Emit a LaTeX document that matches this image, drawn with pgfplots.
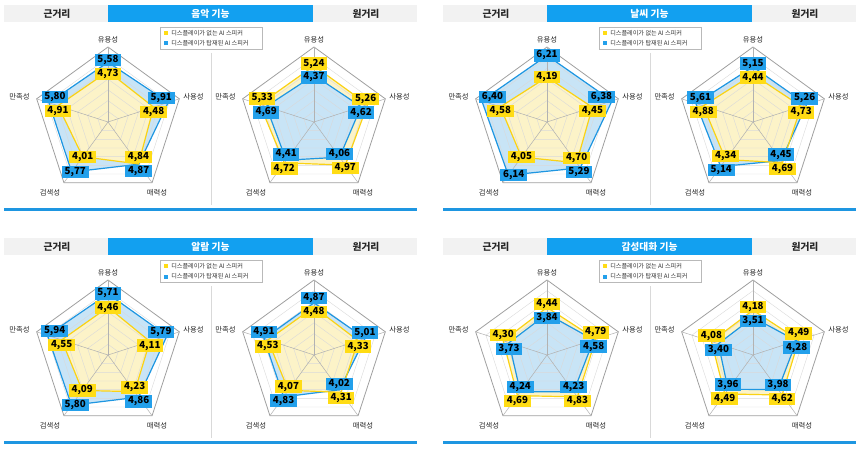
\documentclass[border=0pt]{standalone}
\usepackage{fontspec}
\setmainfont{Noto Sans CJK KR}
\usepackage{pgfplots}
\usepackage{pgfplotstable}
\usepgfplotslibrary{polar}
\pgfplotsset{compat=1.18}

\definecolor{yline}{RGB}{250,210,20}
\definecolor{yfill}{RGB}{252,243,200}
\definecolor{ybox}{RGB}{255,220,20}
\definecolor{bline}{RGB}{30,150,225}
\definecolor{bfill}{RGB}{200,228,246}
\definecolor{bbox}{RGB}{35,160,235}
\definecolor{titleblue}{RGB}{18,160,240}
\definecolor{hdrgray}{RGB}{242,242,242}

% columns: angle, value, label shift up (px)
% 유용성 90, 사용성 18, 매력성 306, 검색성 234, 만족성 162
\pgfplotstableread{
a r up
90 4.73 -2.45
18 4.48 -4.6
306 4.84 6.9
234 4.01 0
162 4.91 -5.5
}\musicNearY
\pgfplotstableread{
a r up
90 5.58 2.45
18 5.91 4.6
306 4.87 -6.9
234 5.77 0
162 5.80 5.5
}\musicNearB
\pgfplotstableread{
a r up
90 5.24 2.3
18 5.26 5.9
306 4.97 -3.1
234 4.72 -5.7
162 5.33 5.9
}\musicFarY
\pgfplotstableread{
a r up
90 4.37 -2.3
18 4.62 -5.9
306 4.06 3.1
234 4.41 5.7
162 4.69 -5.9
}\musicFarB
\pgfplotstableread{
a r up
90 4.19 0
18 4.45 -3.8
306 4.70 4.4
234 4.05 0
162 4.58 -4.0
}\weatherNearY
\pgfplotstableread{
a r up
90 6.21 0
18 6.38 3.8
306 5.29 -4.4
234 6.14 0
162 6.40 4.0
}\weatherNearB
\pgfplotstableread{
a r up
90 4.44 -3.2
18 4.73 -6.1
306 4.69 -6.0
234 4.34 3.5
162 4.88 -5.8
}\weatherFarY
\pgfplotstableread{
a r up
90 5.15 3.2
18 5.26 6.1
306 4.45 6.0
234 5.14 -3.5
162 5.61 5.8
}\weatherFarB
\pgfplotstableread{
a r up
90 4.46 -0.3
18 4.11 -4.2
306 4.23 4.3
234 4.09 0
162 4.55 -4.7
}\alarmNearY
\pgfplotstableread{
a r up
90 5.71 0.3
18 5.79 4.2
306 4.86 -4.3
234 5.80 0
162 5.94 4.7
}\alarmNearB
\pgfplotstableread{
a r up
90 4.48 -4.9
18 4.33 -5.9
306 4.31 -5.7
234 4.07 3.7
162 4.53 -6.4
}\alarmFarY
\pgfplotstableread{
a r up
90 4.87 4.9
18 5.01 5.9
306 4.02 5.7
234 4.83 -3.7
162 4.91 6.4
}\alarmFarB
\pgfplotstableread{
a r up
90 4.44 3.8
18 4.79 6.7
306 4.83 -4.4
234 4.69 -5.1
162 4.30 6.1
}\emoNearY
\pgfplotstableread{
a r up
90 3.84 -3.8
18 4.58 -6.7
306 4.23 4.4
234 4.24 5.1
162 3.73 -6.1
}\emoNearB
\pgfplotstableread{
a r up
90 4.18 3.4
18 4.49 6.7
306 4.62 -4.2
234 4.49 -4.7
162 4.08 5.9
}\emoFarY
\pgfplotstableread{
a r up
90 3.51 -3.4
18 4.28 -6.7
306 3.98 4.2
234 3.96 4.7
162 3.40 -5.9
}\emoFarB

\pgfplotsset{
  radar/.style={width=112.5pt, height=112.5pt, scale only axis,
    xmin=0, xmax=360, ymin=0, ymax=7, hide axis, clip=false, anchor=center},
  vlabel/.style={draw=none, mark=none, point meta=explicit symbolic,
    visualization depends on={rawy\as\rawr},
    visualization depends on={rawx\as\rawa},
    nodes near coords={\pgfmathprintnumber[fixed,fixed zerofill,precision=2,use comma,assume math mode=true]{\rawr}},
    every node near coord/.append style={fill=#1, anchor=center,
      yshift=\pgfplotspointmeta*0.75pt,
      xshift={-max(0,\rawr-5)*8*cos(\rawa)*0.75pt},
      font=\fontsize{7.3}{8}\selectfont\bfseries, text=black,
      inner xsep=2pt, inner ysep=0pt, minimum height=9.2pt}},
}

\tikzset{
  hdr/.style={font=\fontsize{7.3}{8}\selectfont\bfseries, text=black!85},
  axl/.style={font=\fontsize{5.5}{6}\selectfont, text=black!85, inner sep=0pt},
  leg/.style={font=\fontsize{4.6}{5}\selectfont, text=black!80, inner sep=0pt, anchor=west},
}

% #1 cx, #2 cy, #3 back table, #4 back colour, #5 front table, #6 front colour
\newcommand\radar[6]{%
  \begin{polaraxis}[radar, at={(#1*0.75pt,-#2*0.75pt)}]
    \addplot[draw=none, fill=#4fill] table[x=a,y=r]{#3} -- cycle;
    \addplot[draw=none, fill=#6fill] table[x=a,y=r]{#5} -- cycle;
    \pgfplotsinvokeforeach{1,...,6}{%
      \addplot[gray!30, line width=0.3pt] coordinates {(90,##1)(18,##1)(306,##1)(234,##1)(162,##1)} -- cycle;}
    \addplot[gray!75, line width=0.6pt] coordinates {(90,7)(18,7)(306,7)(234,7)(162,7)} -- cycle;
    \addplot[gray!60, line width=0.4pt] coordinates {(90,0)(90,7)};
    \addplot[gray!60, line width=0.4pt] coordinates {(18,0)(18,7)};
    \addplot[gray!60, line width=0.4pt] coordinates {(306,0)(306,7)};
    \addplot[gray!60, line width=0.4pt] coordinates {(234,0)(234,7)};
    \addplot[gray!60, line width=0.4pt] coordinates {(162,0)(162,7)};
    \addplot[#4line, line width=0.9pt] table[x=a,y=r]{#3} -- cycle;
    \addplot[#6line, line width=0.9pt] table[x=a,y=r]{#5} -- cycle;
    \addplot[vlabel=#4box] table[x=a,y=r,meta=up]{#3};
    \addplot[vlabel=#6box] table[x=a,y=r,meta=up]{#5};
  \end{polaraxis}
  \node[axl, anchor=south] at (#1,#2-79) {유용성};
  \node[axl, anchor=west] at (#1+75,#2-25) {사용성};
  \node[axl, anchor=north] at (#1+49,#2+67) {매력성};
  \node[axl, anchor=north] at (#1-58,#2+67) {검색성};
  \node[axl, anchor=east] at (#1-78,#2-25) {만족성};
}

% #1 ox, #2 oy, #3 title
\newcommand\panel[3]{%
  \fill[hdrgray] (#1+4,#2+5) rectangle (#1+417,#2+22);
  \fill[titleblue] (#1+108,#2+5) rectangle (#1+313,#2+22);
  \node[hdr] at (#1+57,#2+13.5) {근거리};
  \node[hdr] at (#1+366,#2+13.5) {원거리};
  \node[hdr, text=white] at (#1+210.5,#2+13.5) {#3};
  \draw[gray!30, line width=0.4pt] (#1+211,#2+53) -- (#1+211,#2+205);
  \fill[bline] (#1+4,#2+208) rectangle (#1+417,#2+211);
  \draw[gray!55, line width=0.3pt, fill=white] (#1+160,#2+27) rectangle (#1+262,#2+49);
  \fill[ybox] (#1+164,#2+31) rectangle (#1+168,#2+35);
  \node[leg] at (#1+171,#2+33) {디스플레이가 없는 AI 스피커};
  \fill[bbox] (#1+164,#2+41.5) rectangle (#1+168,#2+45.5);
  \node[leg] at (#1+171,#2+43.5) {디스플레이가 탑재된 AI 스피커};
}

\begin{document}
\begin{tikzpicture}[x=0.75pt, y=-0.75pt]
  \useasboundingbox (0,0) rectangle (863,453);
  % 음악 기능
  \panel{0}{0}{음악 기능}
  \radar{108}{122}{\musicNearB}{b}{\musicNearY}{y}
  \radar{314}{122}{\musicFarY}{y}{\musicFarB}{b}
  % 날씨 기능
  \panel{439}{0}{날씨 기능}
  \radar{547}{122}{\weatherNearB}{b}{\weatherNearY}{y}
  \radar{753}{122}{\weatherFarB}{b}{\weatherFarY}{y}
  % 알람 기능
  \panel{0}{233}{알람 기능}
  \radar{108}{355}{\alarmNearB}{b}{\alarmNearY}{y}
  \radar{314}{355}{\alarmFarB}{b}{\alarmFarY}{y}
  % 감성대화 기능
  \panel{439}{233}{감성대화 기능}
  \radar{547}{355}{\emoNearY}{y}{\emoNearB}{b}
  \radar{753}{355}{\emoFarY}{y}{\emoFarB}{b}
\end{tikzpicture}
\end{document}
